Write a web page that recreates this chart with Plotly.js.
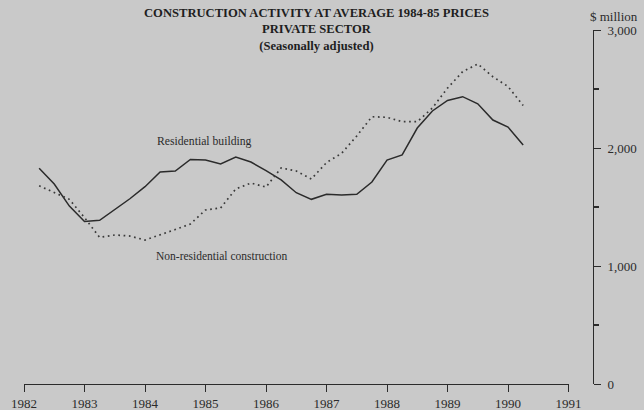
<!DOCTYPE html>
<html>
<head>
<meta charset="utf-8">
<script src="https://cdn.plot.ly/plotly-3.0.1.min.js"></script>
<style>
  html, body { margin: 0; padding: 0; background: #c9c9c9; }
  #chart { width: 644px; height: 410px; }
</style>
</head>
<body>
<div id="chart"></div>
<script>
// Quarterly periods (decimal years)
const quarters = [
  1982.25, 1982.5, 1982.75, 1983.0, 1983.25, 1983.5, 1983.75, 1984.0,
  1984.25, 1984.5, 1984.75, 1985.0, 1985.25, 1985.5, 1985.75, 1986.0,
  1986.25, 1986.5, 1986.75, 1987.0, 1987.25, 1987.5, 1987.75, 1988.0,
  1988.25, 1988.5, 1988.75, 1989.0, 1989.25, 1989.5, 1989.75, 1990.0,
  1990.25
];
// $ million, average 1984-85 prices
const residential = [
  1828, 1695, 1508, 1377, 1387, 1475, 1570, 1672,
  1797, 1805, 1903, 1898, 1864, 1924, 1881, 1809,
  1729, 1621, 1565, 1608, 1602, 1608, 1712, 1898,
  1941, 2169, 2314, 2403, 2435, 2375, 2237, 2178,
  2025
];
const nonResidential = [
  1680, 1623, 1565, 1410, 1242, 1263, 1254, 1220,
  1263, 1309, 1356, 1475, 1492, 1653, 1703, 1669,
  1831, 1805, 1737, 1877, 1955, 2102, 2265, 2260,
  2223, 2223, 2339, 2508, 2647, 2712, 2604, 2521,
  2360
];
const yearRange = [1982, 1991];
const valueRange = [0, 3000];

const ink = '#2b2b2b';
const bg = '#c9c9c9';
const serif = '"Liberation Serif", "Times New Roman", serif';

const traces = [
  {
    x: quarters, y: residential, type: 'scatter', mode: 'lines',
    name: 'Residential building',
    line: { color: ink, width: 1.5 }
  },
  {
    x: quarters, y: nonResidential, type: 'scatter', mode: 'lines',
    name: 'Non-residential construction',
    line: { color: '#3a3a3a', width: 1.7, dash: '1.7px,3.6px' }
  }
];

const layout = {
  width: 644, height: 410,
  margin: { l: 23.5, r: 51, t: 30, b: 26, pad: 0 },
  paper_bgcolor: bg, plot_bgcolor: bg,
  showlegend: false,
  font: { family: serif, color: ink, size: 12 },
  xaxis: {
    range: yearRange, domain: [0, 0.957],
    tickmode: 'linear', tick0: 1982, dtick: 1, tickformat: 'd',
    showgrid: false, zeroline: false,
    showline: true, linecolor: ink, linewidth: 1,
    ticks: 'outside', ticklen: 7, tickwidth: 1, tickcolor: ink,
    tickfont: { family: serif, size: 13, color: ink }
  },
  yaxis: {
    range: valueRange, side: 'right', anchor: 'free', position: 1,
    tickmode: 'linear', tick0: 0, dtick: 1000, tickformat: ',d',
    showgrid: false, zeroline: false,
    showline: true, linecolor: ink, linewidth: 1,
    ticks: 'outside', ticklen: 7, tickwidth: 1, tickcolor: ink,
    ticklabelstandoff: 4,
    minor: { tickmode: 'linear', tick0: 0, dtick: 500, ticks: 'outside', ticklen: 5, tickwidth: 1.2, tickcolor: ink, showgrid: false },
    tickfont: { family: serif, size: 13, color: ink }
  },
  annotations: [
    { text: '<b>CONSTRUCTION ACTIVITY AT AVERAGE 1984-85 PRICES</b><br><b>PRIVATE SECTOR</b><br><b>(Seasonally adjusted)</b>',
      xref: 'paper', yref: 'paper', align: 'center',
      x: 0.514, y: (384 - 29.5) / 354, xanchor: 'center', yanchor: 'middle', showarrow: false,
      font: { family: serif, size: 12.6, color: '#1e1e1e' } },
    { text: '$ million', xref: 'paper', yref: 'paper',
      x: 1.037, y: 1.037, xanchor: 'center', yanchor: 'middle', showarrow: false,
      font: { family: serif, size: 13, color: ink } },
    { text: 'Residential building', xref: 'x', yref: 'y',
      x: 1984.98, y: 2059, xanchor: 'center', yanchor: 'middle', showarrow: false,
      font: { family: serif, size: 11.7, color: ink } },
    { text: 'Non-residential construction', xref: 'x', yref: 'y',
      x: 1985.27, y: 1085, xanchor: 'center', yanchor: 'middle', showarrow: false,
      font: { family: serif, size: 11.5, color: ink } }
  ]
};

Plotly.newPlot('chart', traces, layout, { displayModeBar: false, staticPlot: true });
</script>
</body>
</html>
